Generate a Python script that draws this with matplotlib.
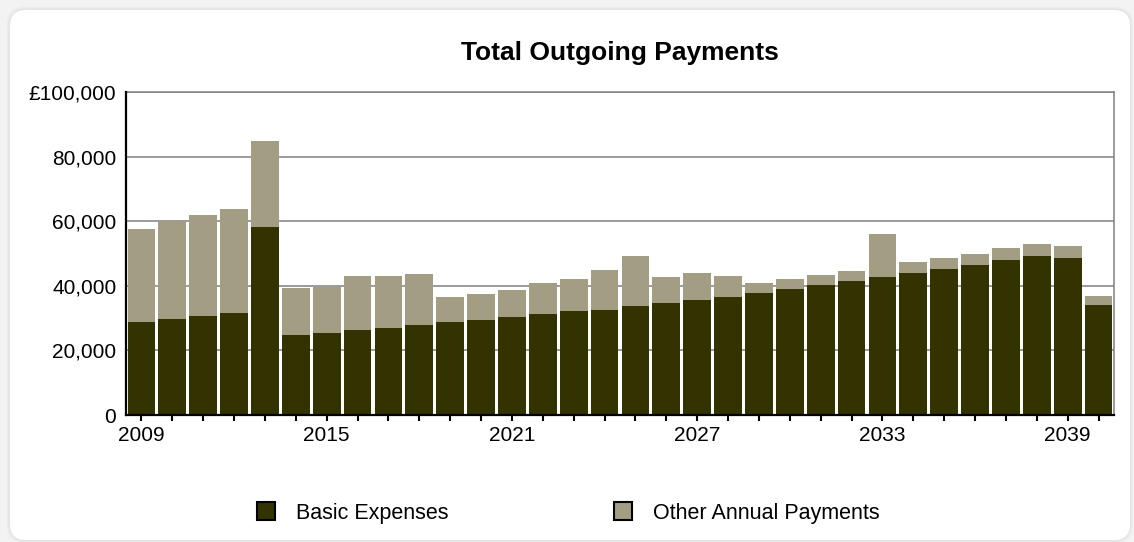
import matplotlib.pyplot as plt
from matplotlib.patches import FancyBboxPatch, Patch
from matplotlib.ticker import FuncFormatter
from matplotlib.transforms import IdentityTransform

plt.rcParams['font.family'] = ['Liberation Sans', 'DejaVu Sans']

# Yearly outgoing payments in pounds
years = list(range(2009, 2041))
basic_expenses = [28800, 29700, 30700, 31600, 58300, 24800, 25400, 26300,
                  26900, 27900, 28800, 29400, 30300, 31300, 32200, 32500,
                  33700, 34700, 35600, 36500, 37800, 39000, 40200, 41500,
                  42700, 44000, 45200, 46400, 48000, 49200, 48600, 34100]
other_payments = [28800, 30400, 31200, 32200, 26500, 14500, 14300, 16700,
                  16100, 15700, 7700, 8000, 8400, 9600, 9900, 12400,
                  15500, 8000, 8400, 6500, 3100, 3100, 3100, 3100,
                  13300, 3400, 3400, 3400, 3700, 3700, 3700, 2700]
labelled_years = [2009, 2015, 2021, 2027, 2033, 2039]

dark = '#333300'
light = '#a39d84'

fig = plt.figure(figsize=(11.34, 5.42), dpi=100, facecolor='#f3f3f3')

# white rounded card behind the chart
for grow, col in [(3, '#ececec'), (1.5, '#e4e4e4')]:
    fig.add_artist(FancyBboxPatch((10 - grow, 2 - grow), 1120 + 2 * grow, 530 + 2 * grow,
                                  boxstyle='round,pad=0,rounding_size=18',
                                  transform=IdentityTransform(), facecolor=col,
                                  edgecolor='none', zorder=-12))
fig.add_artist(FancyBboxPatch((10, 2), 1120, 530, boxstyle='round,pad=0,rounding_size=16',
                              transform=IdentityTransform(), facecolor='white',
                              edgecolor='none', zorder=-10))

ax = fig.add_axes([0.1111, 0.2343, 0.8713, 0.596])
ax.set_facecolor('none')

x = list(range(len(years)))
ax.bar(x, basic_expenses, width=0.9, color=dark, zorder=3)
ax.bar(x, other_payments, width=0.9, bottom=basic_expenses, color=light, zorder=3)

ax.set_xlim(-0.5, len(years) - 0.5)
ax.set_ylim(0, 100000)
ax.set_yticks(range(0, 100001, 20000))
ax.yaxis.set_major_formatter(FuncFormatter(
    lambda v, p: '£{:,.0f}'.format(v) if v == 100000 else '{:,.0f}'.format(v)))
ax.grid(axis='y', color='#808080', linewidth=1.1, zorder=1)
ax.set_axisbelow(True)

ax.set_xticks(x)
ax.set_xticklabels([str(y) if y in labelled_years else '' for y in years])
ax.tick_params(axis='x', length=4, width=1.5, direction='out', pad=4, labelsize=15)
ax.tick_params(axis='y', length=0, pad=7, labelsize=15)

for side in ['left', 'bottom']:
    ax.spines[side].set_color('black')
    ax.spines[side].set_linewidth(1.6)
    ax.spines[side].set_zorder(4)
for side in ['top', 'right']:
    ax.spines[side].set_color('#808080')
    ax.spines[side].set_linewidth(1.1)

ax.text(0.5, 1.12, 'Total Outgoing Payments', transform=ax.transAxes,
        ha='center', va='center', fontsize=19, fontweight='bold')

handles = [Patch(facecolor=dark, edgecolor='black', linewidth=1.5, label='Basic Expenses'),
           Patch(facecolor=light, edgecolor='black', linewidth=1.5, label='Other Annual Payments')]
fig.legend(handles=handles, ncol=2, loc='center', bbox_to_anchor=(0.501, 0.0535),
           frameon=False, fontsize=15.5, handlelength=0.85, handleheight=0.85,
           handletextpad=0.95, columnspacing=7.7)

fig.savefig('out.png', dpi=100, facecolor=fig.get_facecolor())
